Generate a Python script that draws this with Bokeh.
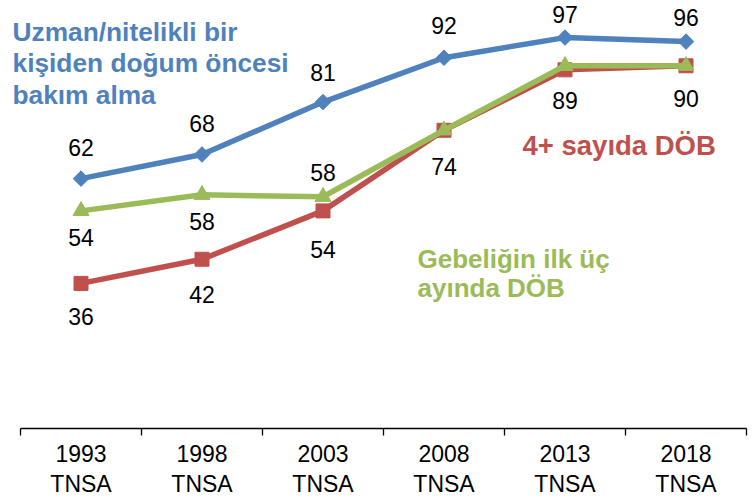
from bokeh.plotting import figure
from bokeh.models import Range1d, FixedTicker, Label, ColumnDataSource
from bokeh.core.properties import value
from bokeh.embed import file_html
from bokeh.resources import INLINE

# ---- data ----
years = ["1993", "1998", "2003", "2008", "2013", "2018"]
survey = "TNSA"
uzman = [62, 68, 81, 92, 97, 96]          # blue
dob4 = [36, 42, 54, 74, 89, 90]           # red
ilk_uc = [54, 58, 57.5, 74, 90, 90]       # green
uzman_lbl = ["62", "68", "81", "92", "97", "96"]
dob4_lbl = ["36", "42", "54", "74", "89", "90"]
ilk_uc_lbl = ["54", "58", "58"]

# ---- label offsets (style, pixels; positive = above) ----
uzman_dy = [31, 31, 30, 32, 23, 24]
dob4_dy = [-33, -35, -39, -36, -31, -33]
ilk_dy = [-27, -27, 24]

BLUE, RED, GREEN = "#4F81BD", "#C0504D", "#9BBB59"
FONT = "Liberation Sans"

n = len(years)
xs = [i + 0.5 for i in range(n)]
PX_X = 121.0   # pixels per category
PX_Y = 4.03    # pixels per percentage point

p = figure(frame_width=754, frame_height=428, output_backend="svg",
           toolbar_location=None,
           x_range=Range1d(-20 / PX_X, n + 8 / PX_X),
           y_range=Range1d(0, 428 / PX_Y),
           min_border_left=0, min_border_right=0,
           min_border_top=0, min_border_bottom=0)
p.outline_line_color = None
p.grid.visible = False
p.yaxis.visible = False
p.background_fill_color = "white"
p.border_fill_color = "white"

ax = p.xaxis[0]
ax.bounds = (0, n)
ax.ticker = FixedTicker(ticks=xs, minor_ticks=list(range(n + 1)))
ax.major_label_overrides = {x: f"{y}\n{survey}" for x, y in zip(xs, years)}
ax.major_tick_out = 0
ax.major_tick_in = 0
ax.minor_tick_out = 7
ax.minor_tick_in = 0
ax.minor_tick_line_color = "black"
ax.axis_line_color = "black"
ax.axis_line_width = 1.3
ax.minor_tick_line_width = 1.3
ax.major_label_text_font = FONT
ax.major_label_text_font_size = "23px"
ax.major_label_text_color = "black"
ax.major_label_standoff = 5
ax.major_label_text_line_height = 1.16

# lines
p.line(xs, uzman, color=BLUE, line_width=5.5)
p.scatter(xs, uzman, marker="square", angle=0.785398, size=11, color=BLUE)
p.line(xs, dob4, color=RED, line_width=5.5)
p.scatter(xs, dob4, marker="square", size=14, color=RED)
p.line(xs, ilk_uc, color=GREEN, line_width=5.5)
p.scatter(xs, ilk_uc, marker="triangle", size=16, color=GREEN)

def labels(x, y, txt, dy):
    src = ColumnDataSource(dict(x=x, y=y, t=txt, dy=dy))
    p.text(x="x", y="y", text="t", y_offset="dy", source=src,
           text_font=value(FONT), text_font_size="23px", text_color="black",
           text_align="center", text_baseline="middle")

labels(xs, uzman, uzman_lbl, [-d for d in uzman_dy])
labels(xs, dob4, dob4_lbl, [-d for d in dob4_dy])
labels(xs[:3], ilk_uc[:3], ilk_uc_lbl, [-d for d in ilk_dy])

# series titles
p.add_layout(Label(x=-8 / PX_X, y=(428 - 16) / PX_Y,
                   text="Uzman/nitelikli bir\nkişiden doğum öncesi\nbakım alma",
                   text_font=FONT, text_font_style="bold", text_font_size="26.3px",
                   text_color=BLUE, text_baseline="top", text_align="left",
                   text_line_height=1.06))
p.add_layout(Label(x=(522 - 20) / PX_X, y=(428 - 129) / PX_Y, text="4+ sayıda DÖB",
                   text_font=FONT, text_font_style="bold", text_font_size="27.5px",
                   text_color=RED, text_baseline="top", text_align="left"))
p.add_layout(Label(x=(417 - 20) / PX_X, y=(428 - 243) / PX_Y,
                   text="Gebeliğin ilk üç\nayında DÖB",
                   text_font=FONT, text_font_style="bold", text_font_size="26px",
                   text_color=GREEN, text_baseline="top", text_align="left",
                   text_line_height=0.97))

open("out.html", "w").write(file_html(p, INLINE))
